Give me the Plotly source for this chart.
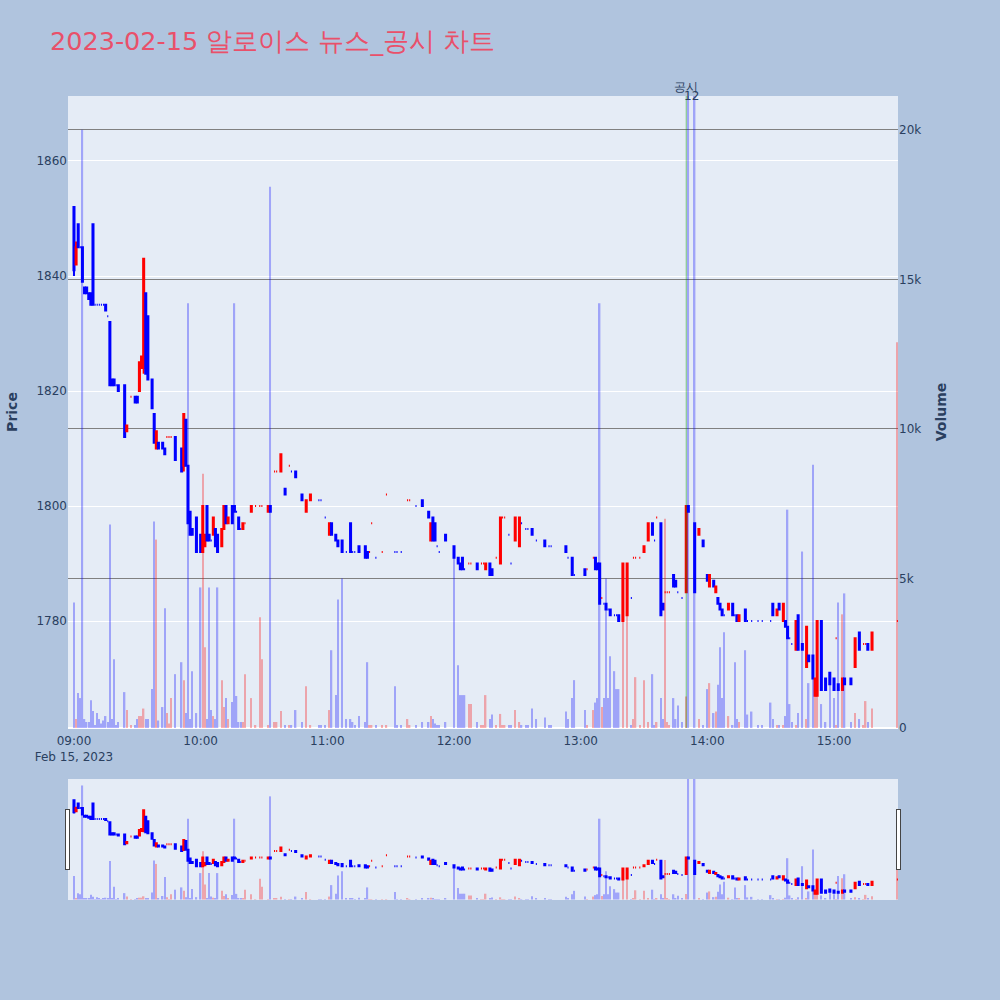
import plotly.graph_objects as go

# ---- data (1-minute candles, 2023-02-15) ----
times = ["09:00","09:01","09:02","09:03","09:04","09:05","09:06","09:07","09:08","09:09",
         "09:10","09:11","09:12","09:13","09:14","09:15","09:16","09:17","09:18","09:19",
         "09:20","09:21","09:24","09:25","09:27","09:29","09:30","09:31","09:32","09:33",
         "09:34","09:35","09:37","09:38","09:39","09:40","09:42","09:43","09:44","09:45",
         "09:46","09:48","09:51","09:52","09:53","09:54","09:55","09:56","09:58","10:00",
         "10:01","10:02","10:03","10:04","10:05","10:06","10:07","10:08","10:10","10:11",
         "10:12","10:13","10:15","10:16","10:17","10:18","10:19","10:20","10:21","10:24",
         "10:26","10:28","10:29","10:32","10:33","10:35","10:36","10:38","10:40","10:42",
         "10:43","10:45","10:48","10:50","10:52","10:56","10:57","10:59","11:01","11:02",
         "11:04","11:05","11:07","11:09","11:11","11:12","11:13","11:15","11:18","11:19",
         "11:20","11:21","11:23","11:26","11:28","11:32","11:33","11:35","11:38","11:39",
         "11:42","11:45","11:48","11:49","11:50","11:51","11:52","11:53","11:56","12:00",
         "12:02","12:03","12:04","12:05","12:07","12:08","12:11","12:13","12:14","12:15",
         "12:17","12:18","12:20","12:22","12:23","12:24","12:26","12:27","12:29","12:31",
         "12:32","12:34","12:35","12:37","12:39","12:43","12:45","12:46","12:53","12:54",
         "12:56","12:57","13:02","13:03","13:06","13:07","13:08","13:09","13:10","13:11",
         "13:12","13:13","13:14","13:16","13:17","13:18","13:20","13:22","13:24","13:25",
         "13:26","13:28","13:30","13:32","13:34","13:35","13:36","13:38","13:39","13:40",
         "13:41","13:42","13:44","13:45","13:46","13:48","13:50","13:51","13:54","13:56",
         "13:58","14:00","14:01","14:03","14:04","14:05","14:06","14:07","14:08","14:10",
         "14:12","14:13","14:14","14:15","14:18","14:19","14:21","14:24","14:26","14:30",
         "14:31","14:33","14:34","14:36","14:37","14:38","14:39","14:40","14:42","14:43",
         "14:45","14:47","14:48","14:50","14:51","14:52","14:54","14:56","14:58","15:00",
         "15:01","15:02","15:04","15:05","15:08","15:10","15:12","15:14","15:15","15:16",
         "15:18","15:30"]

opens = [1852,1842,1849,1845,1845,1838,1838,1837,1837,1849,
         1835,1835,1835,1835,1835,1835,1833,1832,1822,1822,
         1821,1821,1821,1813,1819,1819,1819,1820,1824,1824,
         1837,1833,1822,1816,1810,1811,1811,1810,1812,1812,
         1812,1812,1810,1807,1815,1807,1799,1796,1798,1795,
         1792,1793,1800,1795,1794,1795,1796,1795,1793,1796,
         1800,1797,1800,1800,1799,1798,1796,1796,1797,1799,
         1800,1800,1800,1799,1800,1806,1806,1806,1803,1807,
         1806,1806,1802,1799,1801,1801,1801,1798,1795,1797,
         1795,1794,1794,1792,1797,1792,1792,1793,1793,1792,
         1792,1797,1791,1792,1802,1792,1792,1792,1801,1801,
         1800,1801,1799,1794,1798,1797,1793,1792,1795,1793,
         1791,1790,1791,1789,1790,1790,1790,1790,1790,1789,
         1790,1789,1791,1790,1798,1798,1795,1790,1794,1793,
         1797,1796,1796,1796,1794,1794,1793,1793,1793,1791,
         1791,1788,1789,1789,1791,1791,1790,1790,1784,1783,
         1783,1782,1782,1781,1781,1781,1780,1781,1784,1791,
         1791,1791,1792,1794,1797,1794,1798,1797,1783,1785,
         1785,1785,1788,1787,1785,1784,1785,1800,1797,1795,
         1794,1788,1786,1787,1785,1784,1783,1782,1781,1782,
         1783,1781,1781,1780,1782,1780,1780,1780,1780,1780,
         1783,1781,1783,1780,1780,1779,1777,1776,1775,1781,
         1776,1772,1774,1774,1767,1767,1780,1770,1771,1770,
         1777,1769,1768,1770,1770,1772,1778,1776,1776,1776,
         1775,1780]

highs = [1852,1846,1849,1845,1845,1838,1838,1837,1837,1849,
         1835,1835,1835,1835,1835,1835,1833,1832,1822,1822,
         1821,1821,1821,1814,1819,1819,1819,1825,1826,1843,
         1837,1833,1822,1816,1813,1811,1811,1810,1812,1812,
         1812,1812,1810,1816,1815,1807,1799,1796,1798,1795,
         1800,1795,1800,1795,1794,1798,1796,1795,1796,1800,
         1800,1798,1800,1800,1799,1798,1796,1797,1797,1800,
         1800,1800,1800,1800,1800,1806,1806,1809,1803,1807,
         1806,1806,1802,1801,1802,1801,1801,1798,1797,1797,
         1795,1794,1794,1792,1797,1792,1792,1793,1793,1792,
         1792,1797,1791,1792,1802,1792,1792,1792,1801,1801,
         1800,1801,1799,1797,1798,1797,1793,1792,1795,1793,
         1791,1790,1791,1789,1790,1790,1790,1790,1790,1790,
         1790,1789,1791,1798,1798,1798,1795,1790,1798,1798,
         1797,1796,1796,1796,1794,1794,1793,1793,1793,1791,
         1791,1788,1789,1789,1791,1791,1790,1790,1784,1783,
         1783,1782,1782,1781,1781,1781,1790,1790,1784,1791,
         1791,1791,1793,1797,1797,1794,1798,1797,1783,1785,
         1785,1785,1788,1787,1785,1784,1800,1800,1797,1796,
         1794,1788,1788,1787,1786,1784,1783,1782,1781,1783,
         1783,1781,1781,1781,1782,1780,1780,1780,1780,1780,
         1783,1782,1783,1783,1780,1779,1777,1776,1780,1781,
         1776,1779,1774,1774,1770,1780,1780,1770,1771,1770,
         1777,1769,1770,1770,1770,1777,1778,1776,1776,1776,
         1778,1780]

lows = [1840,1842,1845,1845,1839,1837,1837,1836,1835,1835,
        1835,1835,1835,1835,1835,1834,1833,1821,1821,1821,
        1821,1820,1812,1813,1819,1818,1818,1820,1824,1823,
        1823,1822,1817,1811,1810,1810,1810,1809,1812,1812,
        1812,1808,1806,1806,1807,1797,1795,1795,1792,1792,
        1792,1793,1794,1794,1794,1795,1793,1792,1793,1796,
        1797,1797,1797,1799,1799,1796,1796,1796,1797,1799,
        1800,1800,1800,1799,1799,1806,1806,1806,1802,1807,
        1806,1805,1801,1799,1801,1801,1801,1798,1795,1795,
        1794,1793,1792,1792,1792,1792,1792,1792,1791,1791,
        1792,1797,1791,1792,1802,1792,1792,1792,1801,1801,
        1800,1800,1798,1794,1794,1794,1793,1792,1794,1791,
        1790,1789,1789,1789,1790,1790,1789,1790,1790,1789,
        1788,1788,1791,1790,1798,1798,1795,1790,1794,1793,
        1797,1796,1796,1795,1794,1793,1793,1793,1792,1791,
        1788,1788,1788,1789,1791,1789,1789,1783,1784,1783,
        1782,1782,1781,1781,1781,1780,1780,1781,1784,1791,
        1791,1791,1792,1794,1795,1794,1798,1781,1782,1785,
        1785,1785,1786,1786,1785,1784,1785,1799,1785,1795,
        1793,1787,1786,1786,1785,1783,1782,1781,1781,1782,
        1781,1781,1780,1780,1780,1780,1780,1780,1780,1780,
        1781,1781,1782,1780,1779,1777,1777,1776,1775,1775,
        1775,1772,1773,1770,1767,1767,1768,1768,1769,1768,
        1777,1768,1768,1769,1769,1772,1775,1776,1776,1775,
        1775,1780]

closes = [1841,1845,1845,1845,1839,1837,1837,1836,1835,1835,
          1835,1835,1835,1835,1835,1834,1833,1821,1821,1821,
          1821,1820,1812,1814,1819,1818,1818,1825,1826,1843,
          1823,1822,1817,1811,1813,1810,1810,1809,1812,1812,
          1812,1808,1806,1816,1807,1797,1795,1795,1792,1792,
          1800,1795,1794,1794,1794,1798,1793,1792,1796,1800,
          1797,1798,1797,1799,1799,1796,1796,1797,1797,1800,
          1800,1800,1800,1800,1799,1806,1806,1809,1802,1807,
          1806,1805,1801,1801,1802,1801,1801,1798,1797,1795,
          1794,1793,1792,1792,1792,1792,1792,1792,1791,1791,
          1792,1797,1791,1792,1802,1792,1792,1792,1801,1801,
          1800,1800,1798,1797,1794,1794,1793,1792,1794,1791,
          1790,1789,1789,1789,1790,1790,1789,1790,1790,1790,
          1788,1788,1791,1798,1798,1798,1795,1790,1798,1798,
          1797,1796,1796,1795,1794,1793,1793,1793,1792,1791,
          1788,1788,1788,1789,1791,1789,1789,1783,1784,1783,
          1782,1782,1781,1781,1781,1780,1790,1790,1784,1791,
          1791,1791,1793,1797,1795,1794,1798,1781,1782,1785,
          1785,1785,1786,1786,1785,1784,1800,1799,1785,1796,
          1793,1787,1788,1786,1786,1783,1782,1781,1781,1783,
          1781,1781,1780,1781,1780,1780,1780,1780,1780,1780,
          1781,1782,1782,1783,1779,1777,1777,1776,1780,1775,
          1775,1779,1773,1770,1770,1780,1768,1768,1769,1768,
          1777,1768,1770,1769,1769,1777,1775,1776,1776,1775,
          1778,1780]

volumes = [4200,300,1170,1000,20000,300,200,200,930,570,
           100,500,300,150,250,400,200,6800,300,2300,
           100,200,1200,600,100,100,300,400,400,650,
           300,300,1300,6900,6300,250,700,4000,500,150,
           1000,1800,2200,1600,500,14200,300,1900,500,4700,
           8500,2700,300,4700,600,400,300,4700,1600,700,
           1000,300,870,14200,1070,200,200,200,1800,1000,
           100,3700,2300,100,18100,200,200,570,100,100,
           100,600,200,1400,100,100,100,100,600,2600,
           1100,4300,5000,300,300,200,100,400,200,2200,
           100,100,100,100,100,1400,100,100,300,100,
           100,200,200,400,300,150,100,100,200,6000,
           2100,1100,1100,1100,800,800,200,100,100,1100,
           300,450,100,470,100,100,100,100,600,200,
           100,100,100,650,300,350,100,100,550,300,
           1000,1600,600,100,600,850,1000,14200,700,1000,
           5000,1000,2400,1900,1300,1300,3600,4200,100,300,
           1700,100,1600,200,1800,100,200,1000,300,7000,
           200,100,1000,300,750,200,1050,25000,25000,300,
           100,1300,1500,500,550,1450,2700,1000,3200,400,
           100,2200,300,200,2600,450,550,100,100,850,
           300,100,100,100,400,7300,800,200,100,500,
           5900,300,1500,8800,1600,1200,800,200,1500,1000,
           100,4200,3800,4500,200,500,300,100,900,200,
           650,12900]

notice_time = "13:50"
title_text = "2023-02-15 알로이스 뉴스_공시 차트"

# ---- build ----
x = ["2023-02-15 " + t for t in times]

# volume colour follows candle direction (equal open/close -> compare with previous close)
vol_colors = []
prev_close = None
prev_up = True
for o, c in zip(opens, closes):
    if c > o:
        up = True
    elif c < o:
        up = False
    else:
        if prev_close is None or c == prev_close:
            up = prev_up
        else:
            up = c > prev_close
    vol_colors.append("red" if up else "blue")
    prev_up = up
    prev_close = c

FONT = "DejaVu Sans, Verdana, sans-serif"

fig = go.Figure()
fig.add_trace(go.Candlestick(
    x=x, open=opens, high=highs, low=lows, close=closes,
    increasing=dict(line=dict(color="red"), fillcolor="red"),
    decreasing=dict(line=dict(color="blue"), fillcolor="blue"),
    name="Price", showlegend=False,
))
fig.add_trace(go.Bar(
    x=x, y=volumes, yaxis="y2", width=40000,
    marker=dict(color=vol_colors, line=dict(width=0)),
    opacity=0.3, name="Volume", showlegend=False,
))

x_range = ["2023-02-15 08:57:10", "2023-02-15 15:30:18"]

fig.update_layout(
    width=1000, height=1000,
    paper_bgcolor="#B0C4DE",
    plot_bgcolor="#E5ECF6",
    font=dict(family=FONT, size=12, color="#2a3f5f"),
    title=dict(text=title_text, x=0.05, xanchor="left", y=0.959, yanchor="middle",
               font=dict(family=FONT, size=25.5, color="#E9506A")),
    margin=dict(l=68, r=102, t=96, b=100),
    showlegend=False,
    xaxis=dict(
        type="date", range=x_range, showgrid=False,
        ticks="outside", ticklen=2, tickcolor="rgba(0,0,0,0)",
        rangeslider=dict(visible=True, range=x_range, thickness=0.15),
    ),
    yaxis=dict(
        title=dict(text="<b>Price</b>", font=dict(size=14)),
        range=[1761.4, 1871.3], dtick=20, gridcolor="white",
        zeroline=False,
    ),
    yaxis2=dict(
        title=dict(text="<b>Volume</b>", font=dict(size=14)),
        overlaying="y", side="right", range=[0, 21130], dtick=5000,
        showgrid=True, gridcolor="grey", gridwidth=1,
        zeroline=True, zerolinecolor="white", zerolinewidth=2,
    ),
)

nx = "2023-02-15 " + notice_time
fig.add_shape(type="line", x0=nx, x1=nx, xref="x", y0=0, y1=1, yref="paper",
              line=dict(color="rgba(0,150,0,0.5)", width=1))
fig.add_annotation(x=nx, y=1, xref="x", yref="paper", text="공시", showarrow=False,
                   yanchor="bottom", font=dict(size=12, color="#2a3f5f"))
fig.add_annotation(x="2023-02-15 13:52:30", y=1, xref="x", yref="paper", text="12",
                   showarrow=False, yanchor="middle", font=dict(size=12, color="#2a3f5f"))

fig.write_html("out.html", config={"displayModeBar": False},
               post_script="document.body.style.margin='0px';")
